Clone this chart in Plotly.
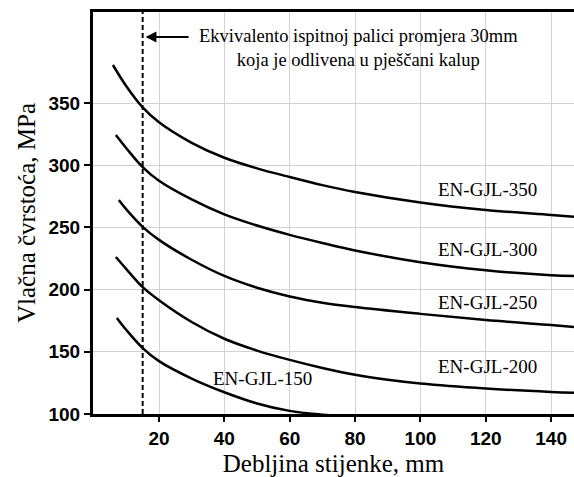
import plotly.graph_objects as go

# Wall thickness (mm) and tensile strength (MPa)
x_350 = [5.9, 10, 15, 20, 30, 40, 50, 60, 70, 80, 100, 120, 140, 147]
y_350 = [380.6, 363.5, 346.5, 334.5, 318.0, 306.0, 297.5, 290.5, 284.0, 278.5, 270.0, 264.0, 260.0, 258.5]

x_300 = [6.8, 10, 15, 20, 30, 40, 50, 60, 70, 80, 100, 120, 140, 147]
y_300 = [324.3, 313.7, 298.5, 287.5, 272.5, 260.5, 251.5, 244.0, 237.5, 231.5, 222.0, 215.5, 211.5, 210.9]

x_250 = [7.7, 10, 15, 20, 30, 40, 50, 60, 70, 80, 100, 120, 140, 147]
y_250 = [272.0, 264.5, 250.5, 240.0, 224.0, 211.0, 201.5, 194.5, 189.5, 186.0, 180.5, 175.5, 171.5, 170.0]

x_200 = [6.8, 10, 15, 20, 30, 40, 50, 60, 70, 80, 90, 100, 120, 140, 147]
y_200 = [226.2, 216.5, 202.0, 191.5, 174.0, 160.5, 151.0, 143.5, 137.0, 131.5, 127.5, 124.5, 120.5, 117.7, 117.0]

x_150 = [7.1, 10, 15, 20, 30, 40, 50, 60, 70, 78]
y_150 = [177.2, 167.5, 153.0, 142.5, 128.5, 117.5, 108.5, 102.5, 99.5, 98.0]

grades = ["EN-GJL-350", "EN-GJL-300", "EN-GJL-250", "EN-GJL-200", "EN-GJL-150"]
label_x = [120.4, 120.4, 120.4, 120.4, 51.8]
label_y = [280.1, 232.6, 190.0, 137.8, 128.9]

x_ticks = [20, 40, 60, 80, 100, 120, 140]
y_ticks = [100, 150, 200, 250, 300, 350]

ref_x = 15
x_range = [-0.2, 147]
y_range = [100, 423.2]

series = [(x_350, y_350), (x_300, y_300), (x_250, y_250), (x_200, y_200), (x_150, y_150)]

fig = go.Figure()
for (xs, ys), name in zip(series, grades):
    fig.add_trace(go.Scatter(x=xs, y=ys, mode="lines", name=name,
                             line=dict(color="black", width=2.5, shape="spline", smoothing=1.0),
                             showlegend=False, hoverinfo="skip"))

fig.add_trace(go.Scatter(x=[ref_x, ref_x], y=y_range, mode="lines",
                         line=dict(color="black", width=2, dash="5px,3px"),
                         showlegend=False, hoverinfo="skip"))

serif = "Liberation Serif, Times New Roman, serif"
sans = "Liberation Sans, Arial, sans-serif"

for t, lx, ly in zip(grades, label_x, label_y):
    fig.add_annotation(x=lx, y=ly, text=t, showarrow=False,
                       font=dict(family=serif, size=19, color="black"),
                       xanchor="center", yanchor="middle")

fig.add_annotation(x=81.0, y=394.2,
                   text="Ekvivalento ispitnoj palici promjera 30mm<br>koja je odlivena u pješčani kalup",
                   showarrow=False, align="center",
                   font=dict(family=serif, size=18.5, color="black"),
                   xanchor="center", yanchor="middle")

fig.add_annotation(x=15.9, y=403.1, ax=29.5, ay=403.1, axref="x", ayref="y",
                   text="", showarrow=True, arrowhead=2, arrowsize=1.2,
                   arrowwidth=1.8, arrowcolor="black")

fig.update_layout(
    width=574, height=477,
    margin=dict(l=93, r=0, t=12, b=63),
    paper_bgcolor="white", plot_bgcolor="white",
    xaxis=dict(range=x_range, tickvals=x_ticks, ticks="outside", ticklen=5, tickwidth=2,
               tickcolor="black", showline=True, linecolor="black", linewidth=3, mirror=True,
               showgrid=True, gridcolor="#d2d2d2", gridwidth=1, zeroline=False,
               tickfont=dict(family=sans, size=19, color="black", weight="bold"),
               title=dict(text="Debljina stijenke, mm", standoff=8,
                          font=dict(family=serif, size=25, color="black"))),
    yaxis=dict(range=y_range, tickvals=y_ticks, ticks="outside", ticklen=6, tickwidth=2,
               tickcolor="black", showline=True, linecolor="black", linewidth=3,
               showgrid=True, gridcolor="#d2d2d2", gridwidth=1, zeroline=False,
               tickfont=dict(family=sans, size=19, color="black", weight="bold"),
               title=dict(text="Vlačna čvrstoća, MPa", standoff=6,
                          font=dict(family=serif, size=25, color="black"))),
)

fig.write_html("out.html", post_script="document.body.style.margin='0';",
               config={"displayModeBar": False})
